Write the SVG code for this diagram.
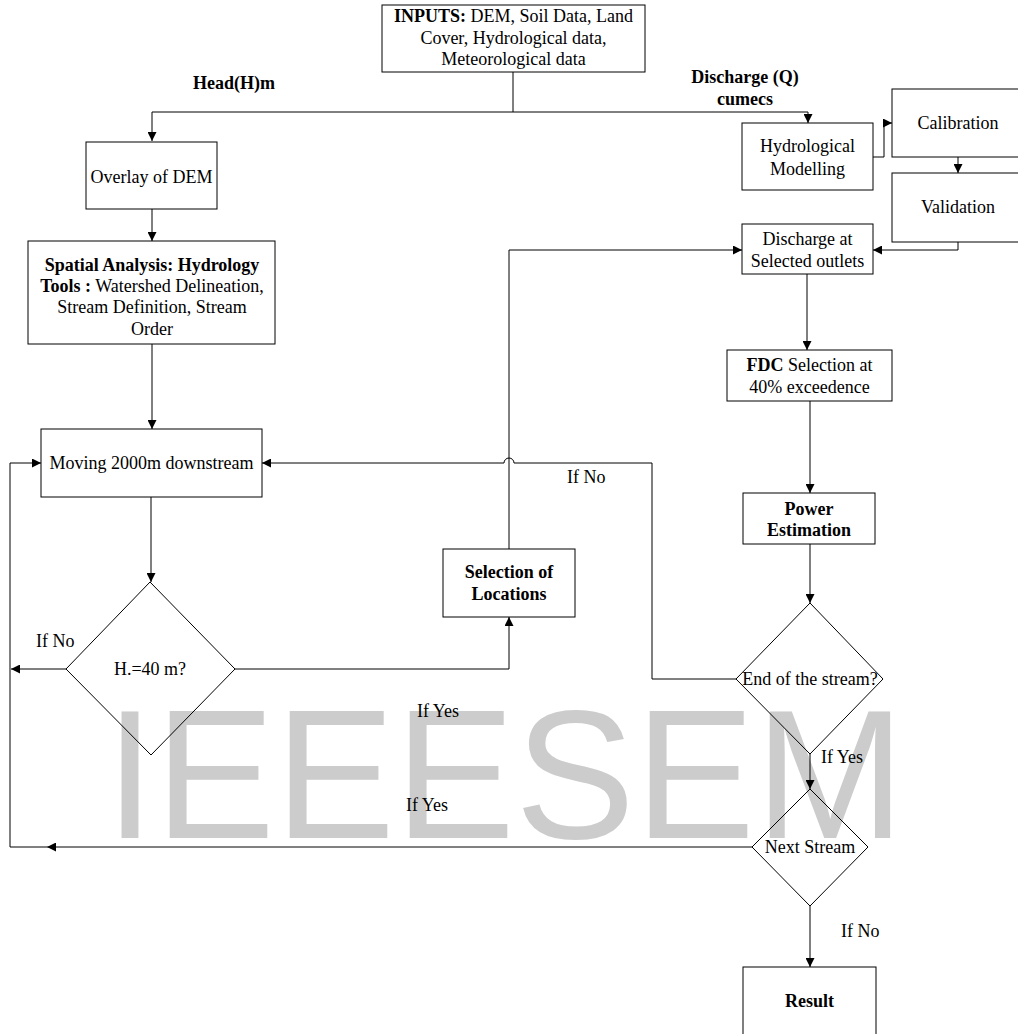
<svg xmlns="http://www.w3.org/2000/svg" width="1018" height="1034" viewBox="0 0 1018 1034">
<style>
  .box { fill: #ffffff; stroke: #000000; stroke-width: 1; }
  .dia { fill: none; stroke: #000000; stroke-width: 1; }
  .ln { fill: none; stroke: #000000; stroke-width: 1; }
  text { font-family: "Liberation Serif", "Times New Roman", serif; font-size: 18px; fill: #000000; }
  .c { text-anchor: middle; }
  .b { font-weight: bold; }
  .wm { font-family: "Liberation Sans", Arial, sans-serif; font-size: 184px; fill: #cccccc; }
</style>
<defs>
  <marker id="arr" markerUnits="userSpaceOnUse" markerWidth="9" markerHeight="9" refX="9" refY="4.5" orient="auto">
    <path d="M0,0 L9,4.5 L0,9 z" fill="#000000"/>
  </marker>
</defs>
<rect width="1018" height="1034" fill="#ffffff"/>
<text class="wm" x="105" y="838" textLength="800" lengthAdjust="spacingAndGlyphs">IEEESEM</text>

<g id="connectors">
  <path class="ln" d="M513,72 V112"/>
  <path class="ln" d="M513,112 H152 V141" marker-end="url(#arr)"/>
  <path class="ln" d="M513,112 H808 V123" marker-end="url(#arr)"/>
  <path class="ln" d="M873,157 H884 V123 H892" marker-end="url(#arr)"/>
  <path class="ln" d="M958,157 V173" marker-end="url(#arr)"/>
  <path class="ln" d="M958,242 V250 H873" marker-end="url(#arr)"/>
  <path class="ln" d="M152,209 V241" marker-end="url(#arr)"/>
  <path class="ln" d="M152,344 V429" marker-end="url(#arr)"/>
  <path class="ln" d="M151,497 V582" marker-end="url(#arr)"/>
  <path class="ln" d="M66,669 H11" marker-end="url(#arr)"/>
  <path class="ln" d="M235,669 H509 V617" marker-end="url(#arr)"/>
  <path class="ln" d="M509,549 V250 H742" marker-end="url(#arr)"/>
  <path class="ln" d="M807,274 V350" marker-end="url(#arr)"/>
  <path class="ln" d="M810,401 V493" marker-end="url(#arr)"/>
  <path class="ln" d="M810,544 V603" marker-end="url(#arr)"/>
  <path class="ln" d="M736,679 H652 V463 H514 A5,5 0 0 0 504,463 H262" marker-end="url(#arr)"/>
  <path class="ln" d="M810,754 V789" marker-end="url(#arr)"/>
  <path class="ln" d="M752,847 H47" marker-end="url(#arr)"/>
  <path class="ln" d="M47,847 H10 V463 H41" marker-end="url(#arr)"/>
  <path class="ln" d="M810,906 V967" marker-end="url(#arr)"/>
</g>

<g id="inputs">
  <rect class="box" x="382" y="5" width="263" height="67"/>
  <text class="c" x="513.5" y="22"><tspan class="b">INPUTS:</tspan> DEM, Soil Data, Land</text>
  <text class="c" x="513.5" y="44">Cover, Hydrological data,</text>
  <text class="c" x="513.5" y="65">Meteorological data</text>
</g>
<g id="label-head">
  <text class="c b" x="234" y="89">Head(H)m</text>
</g>
<g id="label-discharge">
  <text class="c b" x="745" y="83">Discharge (Q)</text>
  <text class="c b" x="745" y="105">cumecs</text>
</g>
<g id="hydro-modelling">
  <rect class="box" x="742" y="123" width="131" height="67"/>
  <text class="c" x="807.5" y="152">Hydrological</text>
  <text class="c" x="807.5" y="175">Modelling</text>
</g>
<g id="calibration">
  <rect class="box" x="892" y="89" width="130" height="68"/>
  <text class="c" x="958" y="129">Calibration</text>
</g>
<g id="validation">
  <rect class="box" x="892" y="173" width="130" height="69"/>
  <text class="c" x="958" y="213">Validation</text>
</g>
<g id="discharge-outlets">
  <rect class="box" x="742" y="224" width="131" height="50"/>
  <text class="c" x="807.5" y="245">Discharge at</text>
  <text class="c" x="807.5" y="267">Selected outlets</text>
</g>
<g id="fdc">
  <rect class="box" x="727" y="350" width="165" height="51"/>
  <text class="c" x="809.5" y="371"><tspan class="b">FDC</tspan> Selection at</text>
  <text class="c" x="809.5" y="393">40% exceedence</text>
</g>
<g id="power">
  <rect class="box" x="743" y="493" width="132" height="51"/>
  <text class="c b" x="809" y="515">Power</text>
  <text class="c b" x="809" y="536">Estimation</text>
</g>
<g id="end-stream">
  <polygon class="dia" points="810,603 883,679 810,754 736,679"/>
  <text class="c" x="810" y="685" font-size="17">End of the stream?</text>
</g>
<g id="next-stream">
  <polygon class="dia" points="810,789 868,847 810,906 752,847"/>
  <text class="c" x="810" y="853">Next Stream</text>
</g>
<g id="result">
  <rect class="box" x="743" y="967" width="133" height="80"/>
  <text class="c b" x="809.5" y="1007">Result</text>
</g>
<g id="overlay">
  <rect class="box" x="86" y="142" width="131" height="67"/>
  <text class="c" x="151.5" y="183">Overlay of DEM</text>
</g>
<g id="spatial">
  <rect class="box" x="28" y="241" width="247" height="103"/>
  <text class="c b" x="152" y="271">Spatial Analysis: Hydrology</text>
  <text class="c" x="152" y="292"><tspan class="b">Tools :</tspan> Watershed Delineation,</text>
  <text class="c" x="152" y="313">Stream Definition, Stream</text>
  <text class="c" x="152" y="335">Order</text>
</g>
<g id="moving">
  <rect class="box" x="41" y="429" width="221" height="68"/>
  <text class="c" x="151.5" y="469">Moving 2000m downstream</text>
</g>
<g id="h40">
  <polygon class="dia" points="150,582 235,669 151,755 66,669"/>
  <text class="c" x="150" y="675">H.=40 m?</text>
</g>
<g id="selection">
  <rect class="box" x="443" y="549" width="132" height="68"/>
  <text class="c b" x="509" y="578">Selection of</text>
  <text class="c b" x="509" y="600">Locations</text>
</g>
<g id="labels">
  <text x="567" y="483">If No</text>
  <text x="36" y="647">If No</text>
  <text x="417" y="717">If Yes</text>
  <text x="406" y="811">If Yes</text>
  <text x="821" y="763">If Yes</text>
  <text x="841" y="937">If No</text>
</g>
</svg>
